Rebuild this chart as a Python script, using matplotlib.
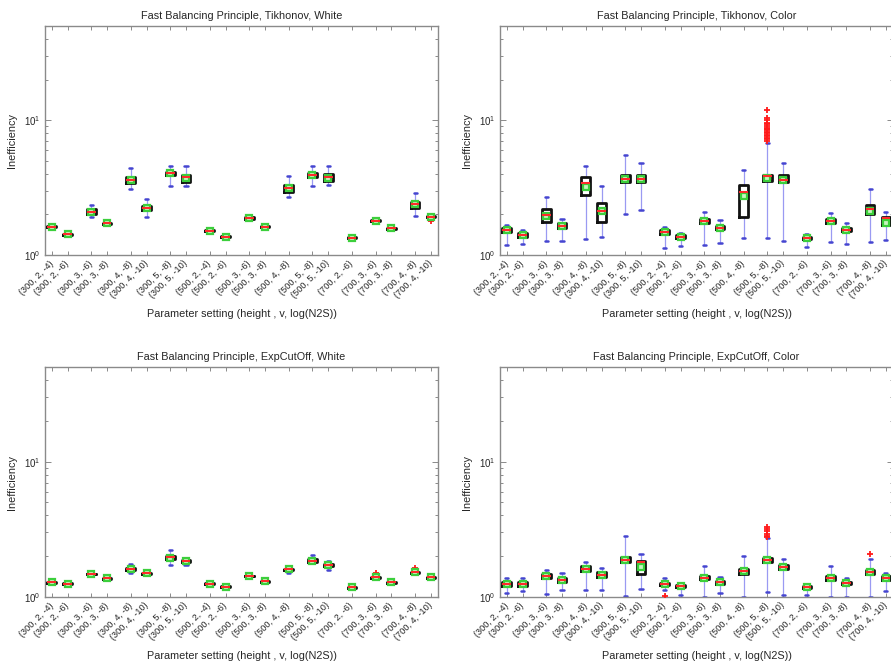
import numpy as np
import matplotlib.pyplot as plt
from matplotlib.ticker import LogLocator, NullFormatter

# ==========================================
# data
# ==========================================
settings = [(300, 2, -4), (300, 2, -6), (300, 3, -6), (300, 3, -8),
            (300, 4, -8), (300, 4, -10), (300, 5, -8), (300, 5, -10),
            (500, 2, -4), (500, 2, -6), (500, 3, -6), (500, 3, -8),
            (500, 4, -8), (500, 5, -8), (500, 5, -10),
            (700, 2, -6), (700, 3, -6), (700, 3, -8), (700, 4, -8), (700, 4, -10)]

# Tikhonov, White
tw_lo   = [1.60, 1.40, 1.90, 1.70, 3.08, 1.91, 3.24, 3.27, 1.49, 1.35, 1.83, 1.60, 2.68, 3.27, 3.30, 1.32, 1.78, 1.56, 1.95, 1.88]
tw_q1   = [1.61, 1.41, 2.00, 1.71, 3.40, 2.15, 3.90, 3.50, 1.50, 1.36, 1.86, 1.61, 2.95, 3.80, 3.55, 1.33, 1.79, 1.57, 2.25, 1.90]
tw_med  = [1.62, 1.42, 2.09, 1.72, 3.62, 2.24, 4.03, 3.80, 1.51, 1.37, 1.89, 1.62, 3.12, 3.92, 3.82, 1.34, 1.80, 1.58, 2.37, 1.92]
tw_q3   = [1.63, 1.43, 2.18, 1.73, 3.80, 2.32, 4.15, 3.95, 1.52, 1.38, 1.92, 1.63, 3.30, 4.05, 3.98, 1.35, 1.81, 1.59, 2.48, 1.94]
tw_hi   = [1.64, 1.44, 2.35, 1.74, 4.43, 2.59, 4.59, 4.59, 1.53, 1.39, 1.95, 1.64, 3.87, 4.56, 4.59, 1.36, 1.82, 1.60, 2.89, 1.96]
tw_mean = [1.62, 1.42, 2.09, 1.72, 3.59, 2.24, 4.03, 3.74, 1.51, 1.37, 1.89, 1.62, 3.12, 3.91, 3.74, 1.34, 1.80, 1.58, 2.37, 1.92]
tw_out  = {19: [1.79]}

# Tikhonov, Color
tc_lo   = [1.18, 1.21, 1.26, 1.28, 1.31, 1.35, 2.00, 2.15, 1.13, 1.17, 1.19, 1.23, 1.34, 1.34, 1.26, 1.15, 1.24, 1.21, 1.24, 1.30]
tc_q1   = [1.48, 1.37, 1.76, 1.58, 2.78, 1.75, 3.50, 3.48, 1.44, 1.33, 1.74, 1.55, 1.93, 3.55, 3.50, 1.31, 1.74, 1.50, 2.03, 1.67]
tc_med  = [1.53, 1.41, 1.98, 1.65, 3.44, 2.13, 3.65, 3.65, 1.49, 1.36, 1.79, 1.59, 2.95, 3.85, 3.63, 1.33, 1.79, 1.54, 2.18, 1.87]
tc_q3   = [1.58, 1.45, 2.18, 1.73, 3.78, 2.45, 3.92, 3.95, 1.54, 1.40, 1.85, 1.64, 3.33, 3.95, 3.95, 1.36, 1.85, 1.59, 2.36, 1.90]
tc_hi   = [1.66, 1.53, 2.70, 1.85, 4.56, 3.25, 5.50, 4.80, 1.61, 1.45, 2.08, 1.81, 4.30, 6.80, 4.78, 1.42, 2.06, 1.74, 3.10, 2.08]
tc_mean = [1.53, 1.41, 1.95, 1.65, 3.20, 2.12, 3.65, 3.65, 1.49, 1.36, 1.79, 1.59, 2.73, 3.74, 3.60, 1.33, 1.79, 1.54, 2.13, 1.74]
tc_out  = {13: [7.0, 7.2, 7.4, 7.6, 7.8, 8.0, 8.2, 8.4, 8.6, 8.8, 9.0, 9.3, 9.6, 10.0, 10.4, 12.0]}

# ExpCutOff, White
ew_lo   = [1.26, 1.23, 1.46, 1.35, 1.51, 1.48, 1.71, 1.71, 1.23, 1.17, 1.41, 1.29, 1.51, 1.78, 1.58, 1.16, 1.38, 1.26, 1.50, 1.38]
ew_q1   = [1.27, 1.24, 1.47, 1.36, 1.59, 1.49, 1.90, 1.82, 1.24, 1.18, 1.42, 1.30, 1.58, 1.82, 1.70, 1.17, 1.39, 1.27, 1.51, 1.39]
ew_med  = [1.28, 1.25, 1.48, 1.37, 1.62, 1.50, 1.96, 1.85, 1.25, 1.19, 1.43, 1.31, 1.60, 1.86, 1.73, 1.18, 1.40, 1.28, 1.52, 1.40]
ew_q3   = [1.29, 1.26, 1.49, 1.38, 1.65, 1.51, 2.01, 1.88, 1.26, 1.20, 1.44, 1.32, 1.62, 1.90, 1.76, 1.19, 1.41, 1.29, 1.53, 1.41]
ew_hi   = [1.30, 1.27, 1.50, 1.39, 1.75, 1.52, 2.23, 1.93, 1.27, 1.21, 1.45, 1.33, 1.66, 2.05, 1.83, 1.20, 1.42, 1.30, 1.54, 1.42]
ew_mean = [1.28, 1.25, 1.48, 1.37, 1.62, 1.50, 1.95, 1.85, 1.25, 1.19, 1.43, 1.31, 1.60, 1.86, 1.73, 1.18, 1.40, 1.28, 1.52, 1.40]
ew_out  = {16: [1.50], 18: [1.65]}

# ExpCutOff, Color
ec_lo   = [1.07, 1.10, 1.06, 1.12, 1.13, 1.13, 1.02, 1.15, 1.13, 1.04, 1.00, 1.07, 1.00, 1.09, 1.04, 1.03, 1.00, 1.00, 1.00, 1.10]
ec_q1   = [1.21, 1.20, 1.37, 1.30, 1.55, 1.41, 1.82, 1.49, 1.23, 1.18, 1.35, 1.25, 1.49, 1.80, 1.60, 1.16, 1.34, 1.24, 1.47, 1.34]
ec_med  = [1.25, 1.24, 1.42, 1.34, 1.61, 1.46, 1.89, 1.80, 1.25, 1.20, 1.39, 1.28, 1.55, 1.87, 1.66, 1.18, 1.38, 1.27, 1.52, 1.38]
ec_q3   = [1.29, 1.28, 1.48, 1.39, 1.68, 1.52, 1.97, 1.85, 1.27, 1.22, 1.43, 1.32, 1.61, 1.94, 1.72, 1.20, 1.42, 1.30, 1.58, 1.42]
ec_hi   = [1.37, 1.37, 1.59, 1.50, 1.81, 1.65, 2.84, 2.08, 1.39, 1.27, 1.70, 1.40, 2.00, 2.73, 1.91, 1.25, 1.68, 1.38, 1.92, 1.50]
ec_mean = [1.25, 1.24, 1.42, 1.34, 1.61, 1.46, 1.89, 1.67, 1.25, 1.20, 1.39, 1.28, 1.55, 1.87, 1.66, 1.18, 1.38, 1.27, 1.52, 1.38]
ec_out  = {8: [1.01], 13: [2.78, 2.84, 2.90, 3.05, 3.20, 3.30], 18: [2.09]}

# ==========================================
# plotting
# ==========================================
plt.rcParams['font.family'] = ['Liberation Sans', 'DejaVu Sans']

labels = ["(%d, %d, %d)" % s for s in settings]

# boxes of the same (height, v) sit one unit apart, groups are spaced 1.5
pos = []
x = 0.0
for i, s in enumerate(settings):
    if i > 0:
        x += 1.0 if s[:2] == settings[i - 1][:2] else 1.5
    pos.append(x)

GREY = '#8a8a8a'
TXT = '#262626'


def draw_panel(ax, title, lo, q1, med, q3, hi, mean, out):
    stats = []
    for i in range(len(settings)):
        stats.append({'whislo': lo[i], 'q1': q1[i], 'med': med[i], 'q3': q3[i],
                      'whishi': hi[i], 'mean': mean[i], 'fliers': out.get(i, [])})
    ax.bxp(stats, positions=pos, widths=0.55, capwidths=0.2,
           showmeans=True, showfliers=True,
           boxprops=dict(color='#111111', linewidth=2.0, solid_joinstyle='round', zorder=3),
           whiskerprops=dict(color='#9a9af2', linewidth=0.9, linestyle='-', zorder=2),
           capprops=dict(color='#4545d0', linewidth=1.8, solid_capstyle='round', zorder=2.5),
           medianprops=dict(color='#ff2a2a', linewidth=1.5, zorder=3.6),
           meanprops=dict(marker='s', markersize=5, markerfacecolor='#c8f5c0',
                          markeredgecolor='#3ccf3c', markeredgewidth=1.6, zorder=3.5),
           flierprops=dict(marker='+', markersize=4, markeredgecolor='#ff1a1a',
                           markeredgewidth=1.3, zorder=3))
    ax.set_yscale('log')
    ax.set_ylim(1, 50)
    ax.set_xlim(pos[0] - 0.43, pos[-1] + 0.45)
    ax.yaxis.set_major_locator(LogLocator(base=10))
    ax.yaxis.set_minor_locator(LogLocator(base=10, subs=np.arange(2, 10)))
    ax.yaxis.set_minor_formatter(NullFormatter())
    ax.set_xticks(pos)
    ax.set_xticklabels(labels, rotation=45, ha='right', va='center',
                       rotation_mode='anchor', fontsize=6.6, color=TXT)
    ax.tick_params(axis='both', which='both', direction='in', top=True, right=True,
                   color=GREY, width=0.7)
    ax.tick_params(axis='x', length=3, pad=5)
    ax.tick_params(axis='y', which='major', length=4, labelsize=7, labelcolor=TXT, pad=3)
    ax.tick_params(axis='y', which='minor', length=2)
    for sp in ax.spines.values():
        sp.set_color(GREY)
        sp.set_linewidth(1.0)
    ax.set_title(title, fontsize=7.8, color=TXT, pad=5)
    ax.set_xlabel('Parameter setting (height , v, log(N2S))', fontsize=7.8, color=TXT, labelpad=6)
    ax.set_ylabel('Inefficiency', fontsize=7.8, color=TXT, labelpad=5)


W, H = 891, 663
fig = plt.figure(figsize=(W / 100, H / 100), dpi=100)

ax_tl = fig.add_axes([45 / W, 1 - 255 / H, 393 / W, 229 / H])
ax_tr = fig.add_axes([500 / W, 1 - 255 / H, 393 / W, 229 / H])
ax_bl = fig.add_axes([45 / W, 1 - 597 / H, 393 / W, 230 / H])
ax_br = fig.add_axes([500 / W, 1 - 597 / H, 393 / W, 230 / H])

draw_panel(ax_tl, 'Fast Balancing Principle, Tikhonov, White',
           tw_lo, tw_q1, tw_med, tw_q3, tw_hi, tw_mean, tw_out)
draw_panel(ax_tr, 'Fast Balancing Principle, Tikhonov, Color',
           tc_lo, tc_q1, tc_med, tc_q3, tc_hi, tc_mean, tc_out)
draw_panel(ax_bl, 'Fast Balancing Principle, ExpCutOff, White',
           ew_lo, ew_q1, ew_med, ew_q3, ew_hi, ew_mean, ew_out)
draw_panel(ax_br, 'Fast Balancing Principle, ExpCutOff, Color',
           ec_lo, ec_q1, ec_med, ec_q3, ec_hi, ec_mean, ec_out)

fig.savefig('out.png', dpi=100)
